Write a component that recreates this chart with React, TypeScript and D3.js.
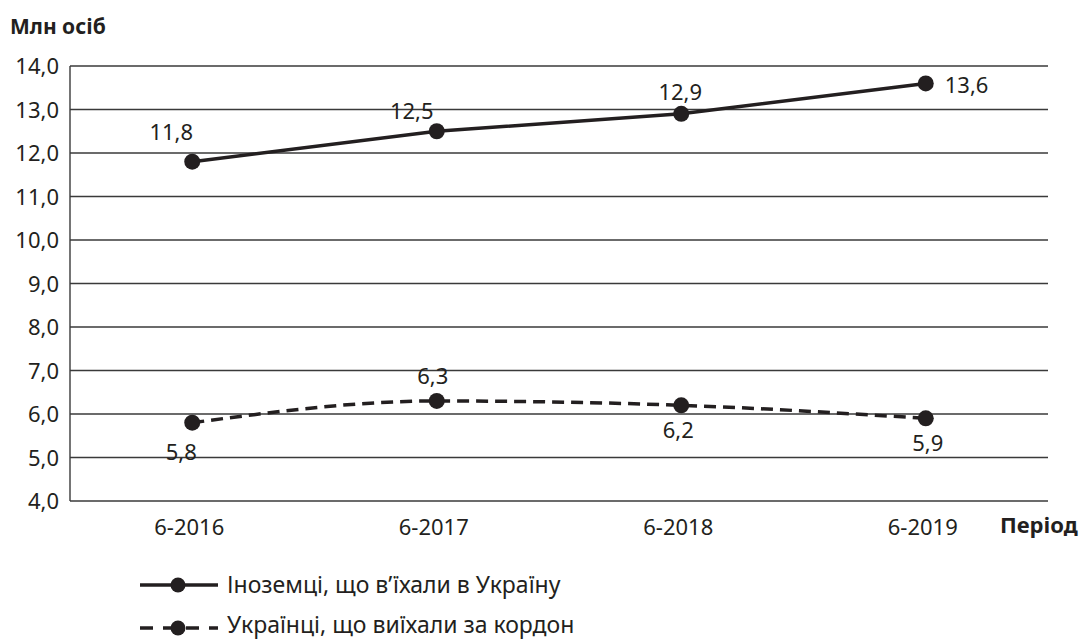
import React from 'react';
import * as d3 from 'd3';

const periods = ['6-2016', '6-2017', '6-2018', '6-2019'];
const foreigners = [11.8, 12.5, 12.9, 13.6];
const ukrainians = [5.8, 6.3, 6.2, 5.9];
const yTicks = [4, 5, 6, 7, 8, 9, 10, 11, 12, 13, 14];
const seriesNames = ['Іноземці, що в’їхали в Україну', 'Українці, що виїхали за кордон'];

// label offsets (dx, dy from point)
const fLabelPos = [[-21, -22], [-25, -12], [-1, -14], [19, 10]];
const uLabelPos = [[-11, 37], [-4, -17], [-3, 33], [2, 33]];

const W = 1082;
const H = 639;
const margin = { top: 66, right: 34, bottom: 138, left: 70 };
const ink = '#231f20';
const font = '"Noto Sans", "Open Sans", sans-serif';
const fmt = (v: number) => v.toFixed(1).replace('.', ',');

export default function App() {
  const x = d3
    .scaleBand()
    .domain(periods)
    .range([margin.left, W - margin.right]);
  const y = d3.scaleLinear().domain([4, 14]).range([H - margin.bottom, margin.top]);
  const cx = (p: string) => (x(p) as number) + x.bandwidth() / 2;

  const solid = d3
    .line<number>()
    .x((_, i) => cx(periods[i]))
    .y((d) => y(d));
  const curved = d3
    .line<number>()
    .x((_, i) => cx(periods[i]))
    .y((d) => y(d))
    .curve(d3.curveMonotoneX);

  return (
    <svg width={W} height={H} style={{ position: 'absolute', left: 0, top: 0, background: '#fff' }} fontFamily={font}>
      <text x={10} y={34} fontSize={21} fontWeight="bold" fill={ink}>Млн осіб</text>

      {yTicks.map((t) => (
        <g key={t}>
          <line x1={margin.left} x2={W - margin.right} y1={y(t)} y2={y(t)} stroke="#3a3a3a" strokeWidth={1.4} />
          <text x={59} y={y(t) + 8} textAnchor="end" fontSize={22} fill={ink}>{fmt(t)}</text>
        </g>
      ))}
      <line x1={margin.left} x2={margin.left} y1={margin.top} y2={H - margin.bottom} stroke="#3a3a3a" strokeWidth={1.4} />

      {periods.map((p) => (
        <text key={p} x={cx(p) - 3} y={535} textAnchor="middle" fontSize={22} fill={ink}>{p}</text>
      ))}
      <text x={1000} y={533} fontSize={22} fontWeight="bold" fill={ink}>Період</text>

      <path d={solid(foreigners) || ''} fill="none" stroke={ink} strokeWidth={3.5} />
      <path d={curved(ukrainians) || ''} fill="none" stroke={ink} strokeWidth={3.5} strokeDasharray="12,7" />

      {foreigners.map((v, i) => (
        <g key={'f' + i}>
          <circle cx={cx(periods[i])} cy={y(v)} r={8} fill={ink} />
          <text
            x={cx(periods[i]) + fLabelPos[i][0]}
            y={y(v) + fLabelPos[i][1]}
            textAnchor={i === 3 ? 'start' : 'middle'}
            fontSize={22}
            fill={ink}
          >
            {fmt(v)}
          </text>
        </g>
      ))}
      {ukrainians.map((v, i) => (
        <g key={'u' + i}>
          <circle cx={cx(periods[i])} cy={y(v)} r={8} fill={ink} />
          <text x={cx(periods[i]) + uLabelPos[i][0]} y={y(v) + uLabelPos[i][1]} textAnchor="middle" fontSize={22} fill={ink}>
            {fmt(v)}
          </text>
        </g>
      ))}

      {seriesNames.map((name, i) => {
        const ly = 585 + i * 43;
        return (
          <g key={name}>
            <line x1={140} x2={218} y1={ly} y2={ly} stroke={ink} strokeWidth={3.5} strokeDasharray={i === 1 ? '13,10' : undefined} />
            <circle cx={178} cy={ly} r={7.5} fill={ink} />
            <text x={227} y={ly + (i === 1 ? 5 : 8)} fontSize={23} fill={ink}>{name}</text>
          </g>
        );
      })}
    </svg>
  );
}
